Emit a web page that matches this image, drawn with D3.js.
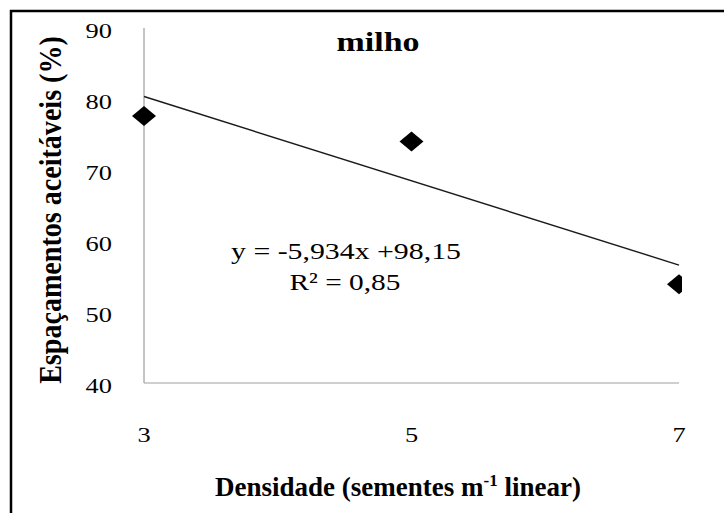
<!DOCTYPE html>
<html>
<head>
<meta charset="utf-8">
<script src="https://cdn.jsdelivr.net/npm/d3@7"></script>
<style>
  body { margin: 0; background: #fff; }
  text { font-family: "Liberation Serif", "DejaVu Serif", serif; fill: #000; }
</style>
</head>
<body>
<svg id="chart" width="724" height="513"></svg>
<script>
// data
const densidade = [3, 5, 7];
const espacamentos = [77.6, 74.0, 53.9];
const xTicks = [3, 5, 7];
const yTicks = [40, 50, 60, 70, 80, 90];
const trend = { slope: -5.934, intercept: 98.15, r2: "0,85" };

const svg = d3.select('#chart');
const plot = { left: 144, right: 679, top: 28, bottom: 383 };
const stretch = 1.2; // glyphs in the reference are a bit wide

const x = d3.scaleLinear().domain([3, 7]).range([plot.left, plot.right]);
const y = d3.scaleLinear().domain([40, 90]).range([plot.bottom, plot.top]);

// outer frame (only left and top visible)
svg.append('rect')
    .attr('x', 11).attr('y', 11)
    .attr('width', 800).attr('height', 600)
    .attr('fill', 'none')
    .attr('stroke', '#000')
    .attr('stroke-width', 2.5);

// stretch a text horizontally around its anchor, to a width or by a factor
function widen(sel, cx, target) {
    const node = sel.node();
    const w = node.getBBox().width;
    const s = target ? target / w : stretch;
    sel.attr('transform', `translate(${cx},0) scale(${s},1) translate(${-cx},0)`);
}

// axes lines
svg.append('line')
    .attr('x1', x(3)).attr('x2', x(3))
    .attr('y1', y(90)).attr('y2', y(40))
    .attr('stroke', '#8a8a8a').attr('stroke-width', 1);
svg.append('line')
    .attr('x1', x(3)).attr('x2', x(7))
    .attr('y1', y(40)).attr('y2', y(40))
    .attr('stroke', '#a0a0a0').attr('stroke-width', 1.2);

// y tick labels
yTicks.forEach(t => {
    const lbl = svg.append('text')
        .attr('x', 112).attr('y', y(t) + 10)
        .attr('text-anchor', 'end')
        .attr('font-size', 22)
        .text(t);
    widen(lbl, 112);
});

// x tick labels
xTicks.forEach(t => {
    const lbl = svg.append('text')
        .attr('x', x(t)).attr('y', 442)
        .attr('text-anchor', 'middle')
        .attr('font-size', 22)
        .text(t);
    widen(lbl, x(t));
});

// clip like the plot area (right side cuts the last marker)
svg.append('clipPath').attr('id', 'plotclip')
    .append('rect')
    .attr('x', 0).attr('y', 0)
    .attr('width', 682).attr('height', 513);

const g = svg.append('g').attr('clip-path', 'url(#plotclip)');

// linear trend line
const line = d3.line()
    .x(d => x(d))
    .y(d => y(trend.slope * d + trend.intercept));
g.append('path')
    .datum([3, 7])
    .attr('d', line)
    .attr('fill', 'none')
    .attr('stroke', '#1a1a1a')
    .attr('stroke-width', 1.4);

// diamond markers
const hw = 12, hh = 10;
g.selectAll('path.pt')
    .data(densidade.map((d, i) => [d, espacamentos[i]]))
    .join('path')
    .attr('class', 'pt')
    .attr('d', d => {
        const cx = x(d[0]), cy = y(d[1]);
        return `M${cx},${cy - hh}L${cx + hw},${cy}L${cx},${cy + hh}L${cx - hw},${cy}Z`;
    })
    .attr('fill', '#000');

// title
const title = svg.append('text')
    .attr('x', 378).attr('y', 51)
    .attr('text-anchor', 'middle')
    .attr('font-size', 27)
    .attr('font-weight', 'bold')
    .text('milho');
widen(title, 378, 83);

// equation
const eq = svg.append('text')
    .attr('x', 346).attr('y', 259)
    .attr('text-anchor', 'middle')
    .attr('font-size', 24)
    .text('y = -5,934x +98,15');
widen(eq, 346, 230);
const r2 = svg.append('text')
    .attr('x', 345).attr('y', 290)
    .attr('text-anchor', 'middle')
    .attr('font-size', 24)
    .text('R\u00b2 = ' + trend.r2);
widen(r2, 345, 111);

// x axis title
const xt = svg.append('text')
    .attr('x', 398).attr('y', 496)
    .attr('text-anchor', 'middle')
    .attr('font-size', 27)
    .attr('font-weight', 'bold');
xt.append('tspan').text('Densidade (sementes m');
xt.append('tspan').attr('dy', -10).attr('font-size', 17).text('-1');
xt.append('tspan').attr('dy', 10).text(' linear)');
widen(xt, 398, 366);

// y axis title
const yg = svg.append('g').attr('transform', 'translate(61,210) rotate(-90)');
const yt = yg.append('text')
    .attr('x', 0).attr('y', 0)
    .attr('text-anchor', 'middle')
    .attr('font-size', 27)
    .attr('font-weight', 'bold')
    .text('Espaçamentos aceitáveis (%)');
const yw = yt.node().getBBox().width;
yt.attr('transform', `scale(${348 / yw},1.18)`);
</script>
</body>
</html>
